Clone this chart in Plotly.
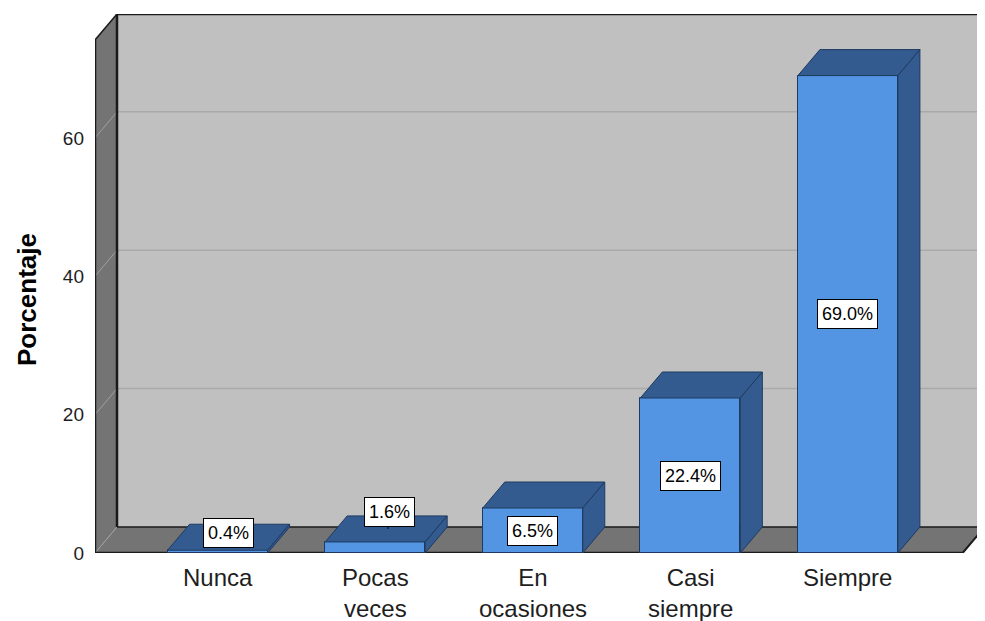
import plotly.graph_objects as go

# ---- data ----
categories = ["Nunca", "Pocas<br>veces", "En<br>ocasiones", "Casi<br>siempre", "Siempre"]
percent = [0.4, 1.6, 6.5, 22.4, 69.0]
value_labels = ["0.4%", "1.6%", "6.5%", "22.4%", "69.0%"]
y_ticks = [0, 20, 40, 60]

# ---- geometry / style ----
OFF = 8                      # default page body margin
W, H = 985 - OFF, 621 - OFF
ML, MR, MT, MB = 95 - OFF, 0, 14 - OFF, 68
x_lo, x_hi = -0.778, 4.87
y_lo, y_hi = 0, 77.9
pw, ph = W - ML - MR, H - MT - MB
px_x = pw / (x_hi - x_lo)
px_y = ph / (y_hi - y_lo)
DX = 22 / px_x          # depth offset in data units
DY = 26 / px_y
BAR_W = 100 / px_x
floor_right = 4.728

FRONT = "#5394e3"
DARK = "#335b8f"
EDGE = "#1e3a60"
WALL = "#c0c0c0"
SIDEWALL = "#747474"
GRID = "#a9a9a9"
INK = "#1e1e1e"
FONT = "Liberation Sans, Arial, sans-serif"

fig = go.Figure()
shapes = []

def path(pts):
    return "M " + " L ".join(f"{x},{y}" for x, y in pts) + " Z"

# back wall
shapes.append(dict(type="path", layer="below", xref="x", yref="y",
                   path=path([(x_lo + DX, DY), (x_hi + 0.2, DY), (x_hi + 0.2, y_hi), (x_lo + DX, y_hi)]),
                   fillcolor=WALL, line=dict(width=0)))
# floor
shapes.append(dict(type="path", layer="below", xref="x", yref="y",
                   path=path([(x_lo, 0), (floor_right, 0), (floor_right + DX, DY), (x_lo + DX, DY)]),
                   fillcolor=SIDEWALL, line=dict(width=0)))
# left wall
shapes.append(dict(type="path", layer="below", xref="x", yref="y",
                   path=path([(x_lo, 0), (x_lo + DX, DY), (x_lo + DX, y_hi), (x_lo, y_hi - DY)]),
                   fillcolor=SIDEWALL, line=dict(width=0)))
# gridlines on back wall and left wall
for t in y_ticks[1:]:
    shapes.append(dict(type="line", layer="below", xref="x", yref="y",
                       x0=x_lo + DX, x1=x_hi + 0.2, y0=t + DY, y1=t + DY,
                       line=dict(color=GRID, width=1.5)))
    shapes.append(dict(type="line", layer="below", xref="x", yref="y",
                       x0=x_lo, x1=x_lo + DX, y0=t, y1=t + DY,
                       line=dict(color="#a0a0a0", width=1)))
shapes.append(dict(type="line", layer="below", xref="x", yref="y",
                   x0=x_lo, x1=x_lo + DX, y0=0, y1=DY, line=dict(color="#a0a0a0", width=1)))
# dark edges
def edge(x0, y0, x1, y1, w=2):
    shapes.append(dict(type="line", layer="below", xref="x", yref="y",
                       x0=x0, y0=y0, x1=x1, y1=y1, line=dict(color="#1a1a1a", width=w)))
edge(x_lo, 0, x_lo, y_hi - DY, 2.5)
edge(x_lo + DX, DY, x_lo + DX, y_hi, 2.5)
edge(x_lo + DX, y_hi, x_hi + 0.2, y_hi, 2.5)
edge(x_lo, y_hi - DY, x_lo + DX, y_hi, 1.5)
edge(x_lo + DX, DY, x_hi + 0.2, DY, 1.5)
edge(x_lo, 0, floor_right, 0, 2.5)
edge(floor_right, 0, floor_right + DX, DY, 2)

# front faces
fig.add_trace(go.Bar(x=list(range(len(percent))), y=percent, width=BAR_W,
                     marker=dict(color=FRONT, line=dict(color=EDGE, width=1)),
                     hoverinfo="skip", showlegend=False))

# top and side faces
for i, v in enumerate(percent):
    l, r = i - BAR_W / 2, i + BAR_W / 2
    top_x = [l, r, r + DX, l + DX, l]
    top_y = [v, v, v + DY, v + DY, v]
    side_x = [r, r + DX, r + DX, r, r]
    side_y = [0, DY, v + DY, v, 0]
    for xs, ys in ((top_x, top_y), (side_x, side_y)):
        fig.add_trace(go.Scatter(x=xs, y=ys, mode="lines", fill="toself",
                                 fillcolor=DARK, line=dict(color=EDGE, width=1),
                                 hoverinfo="skip", showlegend=False))

# value labels
label_lift = [2.5, 4.3, None, None, None]
label_shift = [DX / 2, DX / 2 + 0.02, 0, 0, 0]
annotations = []
for i, (v, txt) in enumerate(zip(percent, value_labels)):
    ly = v / 2 if label_lift[i] is None else v + label_lift[i]
    if label_lift[i] is not None and i == 1:
        fig.add_trace(go.Scatter(x=[i + label_shift[i], i + label_shift[i] - 0.01],
                                 y=[ly - 1.5, v + DY / 2], mode="lines",
                                 line=dict(color="#000", width=1), hoverinfo="skip", showlegend=False))
    annotations.append(dict(x=i + label_shift[i], y=ly, xref="x", yref="y", text=txt,
                            showarrow=False, bgcolor="white", bordercolor="#000",
                            borderwidth=1, borderpad=4,
                            font=dict(family=FONT, size=18, color="#000")))

# category labels
CAT_SIZE = 24
for i, cat in enumerate(categories):
    annotations.append(dict(x=i, y=-(579 - 553 - 0.65 * CAT_SIZE) / ph, xref="x", yref="paper",
                            text=cat, showarrow=False, xanchor="center", yanchor="top",
                            align="center", borderpad=0,
                            font=dict(family=FONT, size=CAT_SIZE, color=INK)))

annotations.append(dict(x=(27 - 95) / pw, y=(553 - 300) / ph, xref="paper", yref="paper",
                        text="<b>Porcentaje</b>", textangle=-90, showarrow=False,
                        font=dict(family=FONT, size=26, color="#000"), xanchor="center", yanchor="middle"))

fig.update_layout(
    width=W, height=H,
    margin=dict(l=ML, r=MR, t=MT, b=MB, pad=0),
    paper_bgcolor="white", plot_bgcolor="white",
    shapes=shapes, annotations=annotations,
    font=dict(family=FONT, color=INK),
    xaxis=dict(range=[x_lo, x_hi], showticklabels=False,
               showgrid=False, zeroline=False, showline=False, ticks="", fixedrange=True),
    yaxis=dict(range=[y_lo, y_hi], tickvals=y_ticks, showgrid=False, zeroline=False,
               showline=False, ticks="", tickfont=dict(size=19, color=INK),
               ticklabelstandoff=10, fixedrange=True),
    bargap=0,
)

fig.write_html("out.html")
